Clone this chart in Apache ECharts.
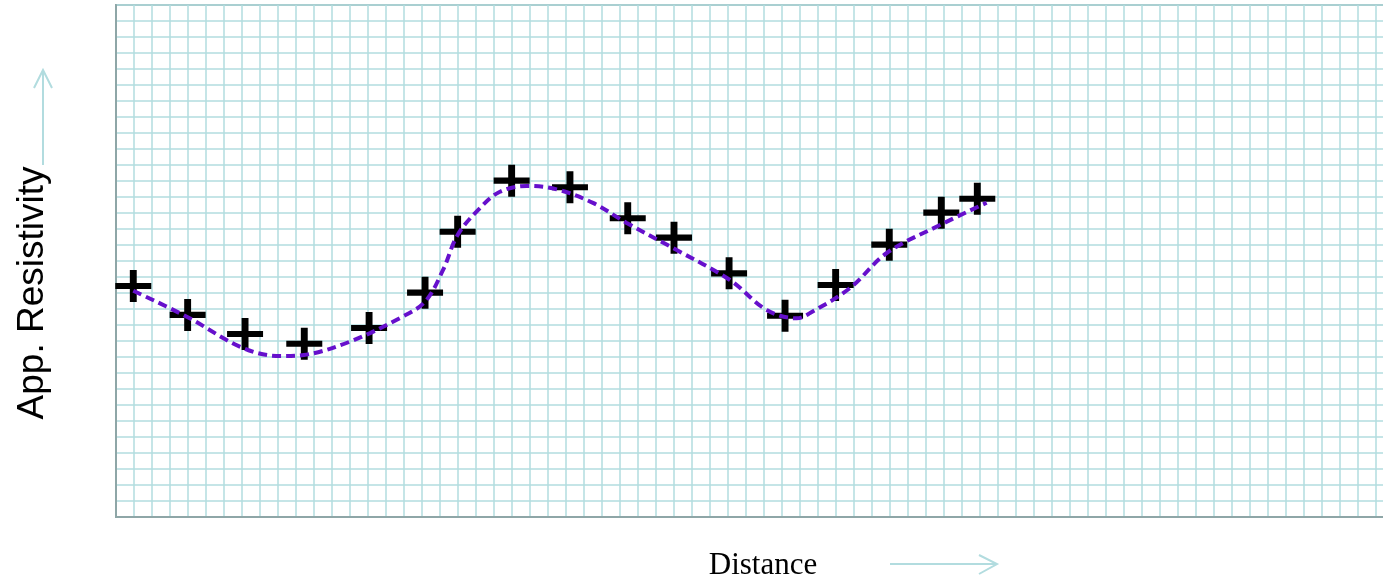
<!DOCTYPE html>
<html>
<head>
<meta charset="utf-8">
<script src="https://cdn.jsdelivr.net/npm/echarts@6/dist/echarts.min.js"></script>
<style>
  html, body { margin: 0; padding: 0; background: #ffffff; }
  #chart { width: 1383px; height: 582px; }
</style>
</head>
<body>
<div id="chart"></div>
<script>
// Measured apparent resistivity readings along the profile (grid units)
const distance = [0.96, 3.98, 7.17, 10.46, 14.06, 17.17, 18.98, 21.98, 25.22, 28.43, 31.0, 34.06, 37.17, 39.98, 42.96, 45.85, 47.85];
const resistivity = [14.44, 12.63, 11.44, 10.83, 11.81, 14.02, 17.83, 21.02, 20.61, 18.67, 17.46, 15.23, 12.58, 14.5, 17.02, 19.02, 19.89];

// Smoothed trend curve drawn through the readings
const fitDistance = [0.96, 3.93, 7.06, 9.11, 10.44, 13.0, 15.78, 17.17, 18.17, 18.98, 20.22, 21.33, 22.82, 24.48, 26.5, 28.37, 30.94, 34.11, 36.15, 37.82, 38.56, 40.78, 42.82, 45.78, 48.37];
const fitResistivity = [14.14, 12.52, 10.56, 10.06, 10.13, 10.96, 12.44, 13.46, 15.44, 17.63, 19.31, 20.33, 20.69, 20.48, 19.63, 18.38, 16.81, 14.81, 12.94, 12.42, 12.75, 14.31, 16.5, 18.25, 19.64];

// Graph-paper extent
const xCells = 71;
const yCells = 32;

const gridColor = '#b2dcdf';
const frameColor = '#8ea6a7';
// plus marker drawn as two stroked bars
const plusPath = 'path://M0,16 L36,16 M18,0 L18,32';

const chart = echarts.init(document.getElementById('chart'), null, { renderer: 'canvas' });

chart.setOption({
  animation: false,
  backgroundColor: '#ffffff',
  grid: {
    left: 116, top: 5, width: 1278, height: 512,
    outerBoundsMode: 'none',
    show: true, borderColor: frameColor, borderWidth: 2, backgroundColor: '#ffffff'
  },
  xAxis: {
    type: 'value', min: 0, max: xCells, interval: 1,
    axisLine: { show: true, lineStyle: { color: frameColor, width: 2 } },
    axisTick: { show: false }, axisLabel: { show: false },
    splitLine: { show: true, lineStyle: { color: gridColor, width: 1.5 } }
  },
  yAxis: {
    type: 'value', min: 0, max: yCells, interval: 1,
    axisLine: { show: true, lineStyle: { color: frameColor, width: 2 } },
    axisTick: { show: false }, axisLabel: { show: false },
    splitLine: { show: true, lineStyle: { color: gridColor, width: 1.5 } }
  },
  series: [
    {
      type: 'scatter',
      data: distance.map((d, i) => [d, resistivity[i]]),
      symbol: plusPath,
      symbolSize: [36, 32],
      itemStyle: { color: '#000000', borderColor: '#000000', borderWidth: 6.5, borderCap: 'butt', opacity: 1 },
      z: 2
    },
    {
      type: 'line',
      data: fitDistance.map((d, i) => [d, fitResistivity[i]]),
      smooth: 0.35,
      showSymbol: false,
      lineStyle: { color: '#6610cc', width: 4, type: [9, 5] },
      z: 3
    }
  ],
  graphic: [
    {
      type: 'text', x: 33, y: 293, rotation: Math.PI / 2,
      style: {
        text: 'App. Resistivity', fill: '#000000',
        font: '37px "Liberation Sans", Arial, sans-serif',
        textAlign: 'center', textVerticalAlign: 'middle'
      }
    },
    {
      type: 'polyline',
      shape: { points: [[43, 165], [43, 70]] },
      style: { stroke: gridColor, lineWidth: 2, fill: null }
    },
    {
      type: 'polyline',
      shape: { points: [[34, 88], [43, 70], [52, 88]] },
      style: { stroke: gridColor, lineWidth: 2, fill: null }
    },
    {
      type: 'text', x: 763, y: 566,
      style: {
        text: 'Distance', fill: '#000000',
        font: '31px "Liberation Serif", "Times New Roman", serif',
        textAlign: 'center', textVerticalAlign: 'middle'
      }
    },
    {
      type: 'polyline',
      shape: { points: [[890, 564], [997, 564]] },
      style: { stroke: gridColor, lineWidth: 2, fill: null }
    },
    {
      type: 'polyline',
      shape: { points: [[979, 555], [997, 564], [979, 574]] },
      style: { stroke: gridColor, lineWidth: 2, fill: null }
    }
  ]
});
</script>
</body>
</html>
